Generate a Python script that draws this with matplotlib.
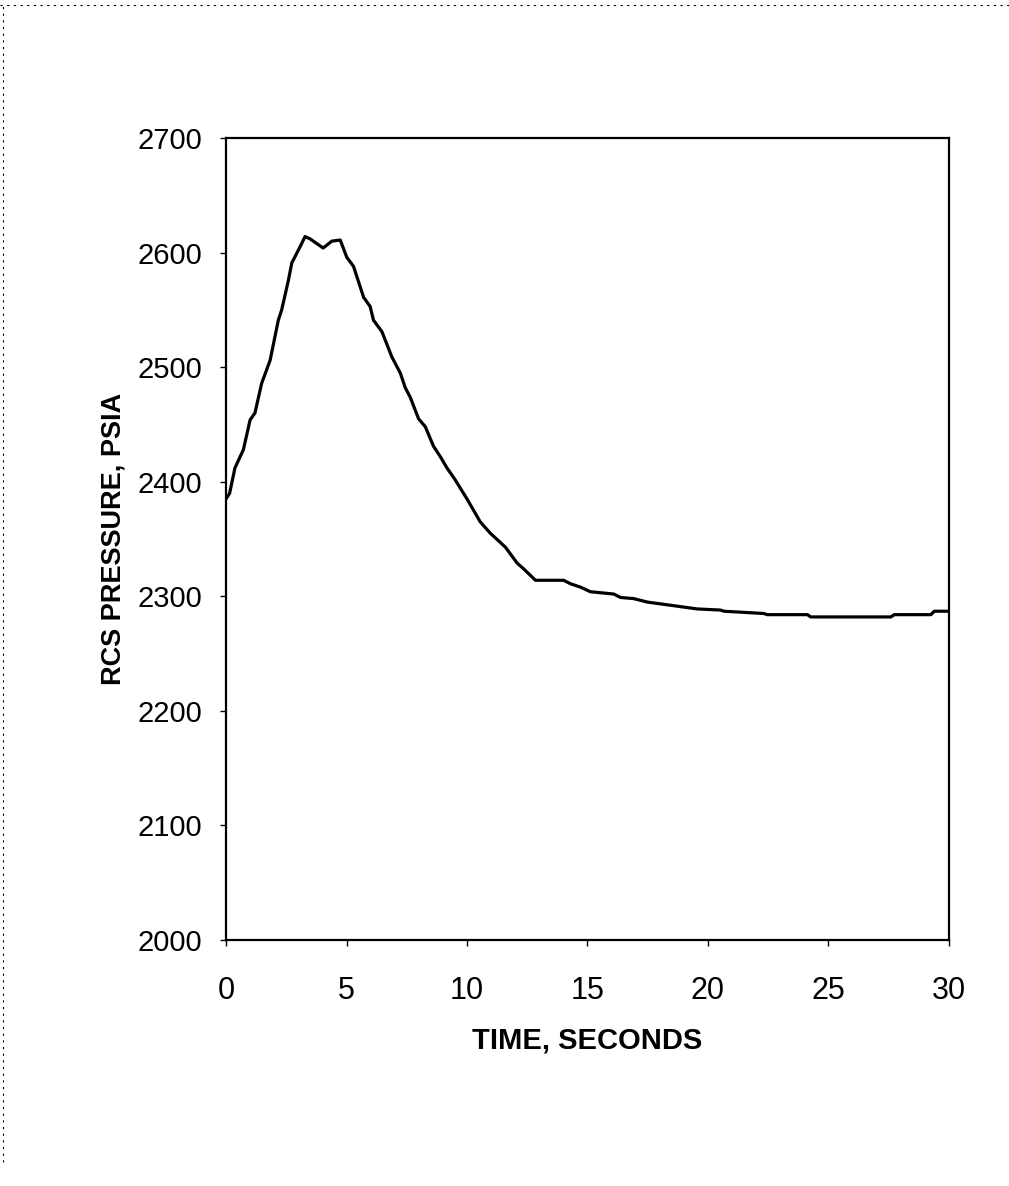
import numpy as np
import matplotlib
matplotlib.use("Agg")
from matplotlib import pyplot as plt
from matplotlib.lines import Line2D

# values
time_s = [0.0, 0.15, 0.37, 0.72, 1.0, 1.2, 1.48, 1.83, 2.17, 2.31, 2.59, 2.73,
          3.07, 3.28, 3.49, 4.03, 4.39, 4.74, 5.01, 5.29, 5.71, 5.98, 6.12,
          6.47, 6.88, 7.23, 7.44, 7.64, 7.99, 8.27, 8.61, 8.89, 9.17, 9.5,
          10.0, 10.55, 10.97, 11.59, 12.08, 12.35, 12.84, 14.01, 14.29, 14.71,
          15.12, 16.09, 16.37, 16.92, 17.48, 18.17, 18.86, 19.55, 20.52,
          20.66, 22.32, 22.46, 24.13, 24.26, 27.59, 27.73, 29.25, 29.39, 30.0]
pressure = [2385, 2390, 2412, 2428, 2454, 2460, 2486, 2506, 2541, 2550, 2576,
            2591, 2605, 2614, 2612, 2604, 2610, 2611, 2596, 2588, 2561, 2553,
            2541, 2531, 2509, 2495, 2482, 2474, 2455, 2448, 2431, 2422, 2412,
            2402, 2385, 2365, 2355, 2343, 2329, 2324, 2314, 2314, 2311, 2308,
            2304, 2302, 2299, 2298, 2295, 2293, 2291, 2289, 2288, 2287, 2285,
            2284, 2284, 2282, 2282, 2284, 2284, 2287, 2287]

x_ticks = [0, 5, 10, 15, 20, 25, 30]
y_ticks = [2000, 2100, 2200, 2300, 2400, 2500, 2600, 2700]

plt.rcParams['font.family'] = ['Liberation Sans', 'DejaVu Sans']

fig = plt.figure(figsize=(10.09, 11.86), dpi=100)
ax = fig.add_axes([0.224, 0.2074, 0.7165, 0.6762])

ax.plot(time_s, pressure, color='black', lw=2.3)

ax.set_xlim(0, 30)
ax.set_ylim(2000, 2700)
ax.set_xticks(x_ticks)
ax.set_yticks(y_ticks)
ax.tick_params(direction='out', length=4, width=1, color='black')
ax.tick_params(axis='y', pad=13, labelsize=21)
ax.tick_params(axis='x', pad=22, labelsize=22)
for s in ax.spines.values():
    s.set_linewidth(1.6)

ax.set_xlabel('TIME, SECONDS', fontsize=21, fontweight='bold', labelpad=15)
ax.set_ylabel('RCS PRESSURE, PSIA', fontsize=19.5, fontweight='bold', labelpad=8)

# dashed page edge from the scan
fig.add_artist(Line2D([0, 1], [0.996, 0.996], transform=fig.transFigure,
                      color='black', lw=0.8, ls=(0, (2, 4))))
fig.add_artist(Line2D([0.003, 0.003], [0.02, 0.996], transform=fig.transFigure,
                      color='black', lw=0.8, ls=(0, (2, 4))))

fig.savefig('out.png', dpi=100)
